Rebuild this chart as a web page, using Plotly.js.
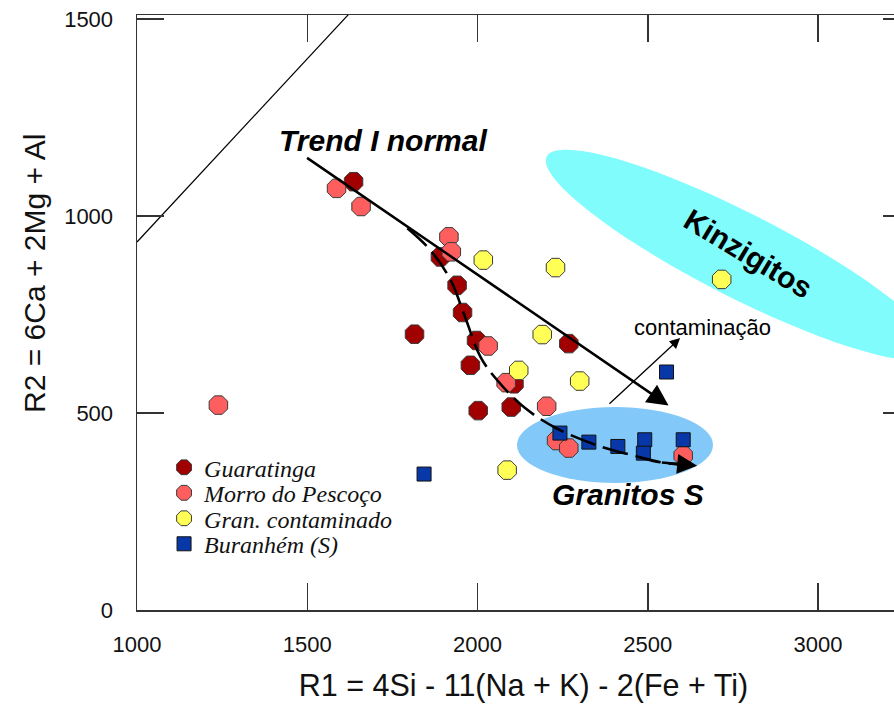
<!DOCTYPE html>
<html>
<head>
<meta charset="utf-8">
<script src="https://cdn.plot.ly/plotly-3.0.1.min.js"></script>
<style>
html,body{margin:0;padding:0;overflow:hidden;background:#fff;}
#chart{width:910px;height:706px;}
</style>
</head>
<body>
<div id="chart"></div>
<script>
// ---- data ----
const guarX = [1636, 1815, 1891, 1940, 1956, 1997, 1979, 2268, 2107, 2002, 2099];
const guarY = [1087, 700, 896, 824, 755, 684, 621, 676, 574, 506, 515];

const morroX = [1586, 1658, 1239, 1916, 1923, 2031, 2084, 2203, 2232, 2268, 2604];
const morroY = [1070, 1024, 520, 947, 909, 670, 577, 517, 430, 411, 392];

const granX = [2017, 2229, 2190, 2121, 2300, 2087, 2717];
const granY = [888, 869, 699, 608, 581, 355, 839];

const buraX = [1843, 2242, 2327, 2412, 2491, 2487, 2604, 2555];
const buraY = [345, 449, 426, 415, 432, 398, 432, 604];

const seriesNames = ["Guaratinga", "Morro do Pescoço", "Gran. contaminado", "Buranhém (S)"];

// reference lines
const boundX = [1000, 1640];
const boundY = [934, 1529];
const trendX = [1495, 2561];          // Trend I normal (tail, head)
const trendY = [1150, 519];
const curveX = [1794, 1862, 1921, 1960, 2009, 2058, 2136, 2234, 2361, 2458, 2537, 2645];
const curveY = [969, 913, 837, 752, 642, 583, 515, 460, 415, 392, 375, 366];
const contX = [2383, 2595];           // contaminação arrow (tail, head)
const contY = [520, 690];

const xTicks = [1000, 1500, 2000, 2500, 3000];
const yTicks = [0, 500, 1000, 1500];

// ---- layout geometry ----
const W = 910, H = 706, ML = 137, MT = 15, MB = 96;
const XR = [1000, 3270], YR = [0, 1510];
const XS = (W - ML) / (XR[1] - XR[0]);
const YS = (H - MT - MB) / (YR[1] - YR[0]);
const px2x = p => XR[0] + (p - ML) / XS;
const py2y = p => (H - MB - p) / YS;

// rotated Kinzigitos ellipse (screen geometry -> data coords)
function ellipsePath(cx, cy, a, b, deg) {
  const th = deg * Math.PI / 180;
  let d = "";
  for (let i = 0; i <= 72; i++) {
    const t = i / 72 * 2 * Math.PI;
    const px = cx + a * Math.cos(th) * Math.cos(t) - b * Math.sin(th) * Math.sin(t);
    const py = cy + a * Math.sin(th) * Math.cos(t) + b * Math.cos(th) * Math.sin(t);
    d += (i === 0 ? "M" : "L") + px2x(px).toFixed(1) + "," + py2y(py).toFixed(1);
  }
  return d + "Z";
}

const FONT = "Liberation Sans, Arial, sans-serif";
const oct = (c) => ({symbol: "octagon", size: 20, color: c, line: {color: "#3a3a3a", width: 1}});

const traces = [
  {x: guarX, y: guarY, name: seriesNames[0], mode: "markers", type: "scatter", marker: oct("#a00000")},
  {x: morroX, y: morroY, name: seriesNames[1], mode: "markers", type: "scatter", marker: oct("#ff5e5e")},
  {x: granX, y: granY, name: seriesNames[2], mode: "markers", type: "scatter", marker: oct("#ffff55")},
  {x: buraX, y: buraY, name: seriesNames[3], mode: "markers", type: "scatter",
   marker: {symbol: "square", size: 14, color: "#0838a8", line: {color: "#111", width: 1}}},
  {x: boundX, y: boundY, mode: "lines", type: "scatter", showlegend: false, hoverinfo: "skip",
   line: {color: "#000", width: 1.2}},
  {x: curveX, y: curveY, mode: "lines", type: "scatter", showlegend: false, hoverinfo: "skip",
   line: {color: "#000", width: 2.6, shape: "spline", dash: "26px,8px"}}
];

const n = curveX.length;
const layout = {
  width: W, height: H,
  margin: {l: ML, r: 0, t: MT, b: MB, pad: 0},
  paper_bgcolor: "#fff", plot_bgcolor: "#fff",
  font: {family: FONT, color: "#111"},
  showlegend: true,
  legend: {
    x: 0.035, y: 0.277, xanchor: "left", yanchor: "top",
    bgcolor: "rgba(0,0,0,0)", borderwidth: 0,
    font: {family: "Liberation Serif, Times New Roman, serif", size: 24, style: "italic", color: "#111"},
    itemsizing: "trace", tracegroupgap: 0
  },
  xaxis: {
    range: XR, tickvals: xTicks, ticktext: xTicks.map(String),
    showgrid: false, zeroline: false,
    showline: true, linecolor: "#333", linewidth: 1.5, mirror: "allticks",
    ticks: "inside", ticklen: 27, tickwidth: 1.5, tickcolor: "#333",
    tickfont: {family: FONT, size: 22, color: "#111"}, ticklabelstandoff: 14,
    title: {text: "R1 = 4Si - 11(Na + K) - 2(Fe + Ti)", font: {family: FONT, size: 30.5, color: "#111"}, standoff: 18}
  },
  yaxis: {
    range: YR, tickvals: yTicks, ticktext: yTicks.map(String),
    showgrid: false, zeroline: false,
    showline: true, linecolor: "#333", linewidth: 1.5, mirror: "allticks",
    ticks: "inside", ticklen: 27, tickwidth: 1.5, tickcolor: "#333",
    tickfont: {family: FONT, size: 22, color: "#111"}, ticklabelstandoff: 18
  },
  shapes: [
    {type: "path", xref: "x", yref: "y", layer: "below", path: ellipsePath(740, 255, 217, 42, 27),
     fillcolor: "#80fcfc", line: {width: 0}},
    {type: "circle", xref: "x", yref: "y", layer: "below",
     x0: px2x(517), x1: px2x(713), y0: py2y(483), y1: py2y(407),
     fillcolor: "#82c8f8", line: {width: 0}}
  ],
  annotations: [
    {x: (34 - ML) / (W - ML), y: (H - MB - 274) / (H - MT - MB), xref: "paper", yref: "paper",
     xanchor: "center", yanchor: "middle", textangle: -90, showarrow: false,
     text: "R2 = 6Ca + 2Mg + Al", font: {family: FONT, size: 30, color: "#111"}},
    {x: trendX[1], y: trendY[1], ax: trendX[0], ay: trendY[0], xref: "x", yref: "y", axref: "x", ayref: "y",
     text: "", showarrow: true, arrowhead: 2, arrowsize: 1.7, arrowwidth: 2.5, arrowcolor: "#000"},
    {x: curveX[n - 1], y: curveY[n - 1], ax: curveX[n - 2], ay: curveY[n - 2], xref: "x", yref: "y", axref: "x", ayref: "y",
     text: "", showarrow: true, arrowhead: 2, arrowsize: 1.6, arrowwidth: 2.5, arrowcolor: "#000"},
    {x: contX[1], y: contY[1], ax: contX[0], ay: contY[0], xref: "x", yref: "y", axref: "x", ayref: "y",
     text: "", showarrow: true, arrowhead: 2, arrowsize: 1.6, arrowwidth: 1.3, arrowcolor: "#000"},
    {x: px2x(383), y: py2y(140), xref: "x", yref: "y", showarrow: false, text: "Trend I normal",
     font: {family: FONT, size: 30, weight: "bold", style: "italic", color: "#000"}},
    {x: px2x(628), y: py2y(494), xref: "x", yref: "y", showarrow: false, text: "Granitos S",
     font: {family: FONT, size: 30, weight: "bold", style: "italic", color: "#000"}},
    {x: px2x(748), y: py2y(253), xref: "x", yref: "y", showarrow: false, text: "Kinzigitos", textangle: 31,
     font: {family: FONT, size: 30, weight: "bold", color: "#000"}},
    {x: px2x(702), y: py2y(327), xref: "x", yref: "y", showarrow: false, text: "contaminação",
     font: {family: FONT, size: 22, color: "#000"}}
  ]
};

Plotly.newPlot("chart", traces, layout, {staticPlot: true, displayModeBar: false}).then(() => {
  // tighten legend row spacing to match the reference (rows ~25.5px apart)
  const items = document.querySelectorAll(".legend .traces");
  if (!items.length) return;
  const m = /translate\(([-\d.]+),\s*([-\d.]+)\)/.exec(items[0].getAttribute("transform") || "");
  if (!m) return;
  const x0 = parseFloat(m[1]), y0 = parseFloat(m[2]);
  items.forEach((g, i) => g.setAttribute("transform", "translate(" + x0 + "," + (y0 + i * 25.5) + ")"));
});
</script>
</body>
</html>
